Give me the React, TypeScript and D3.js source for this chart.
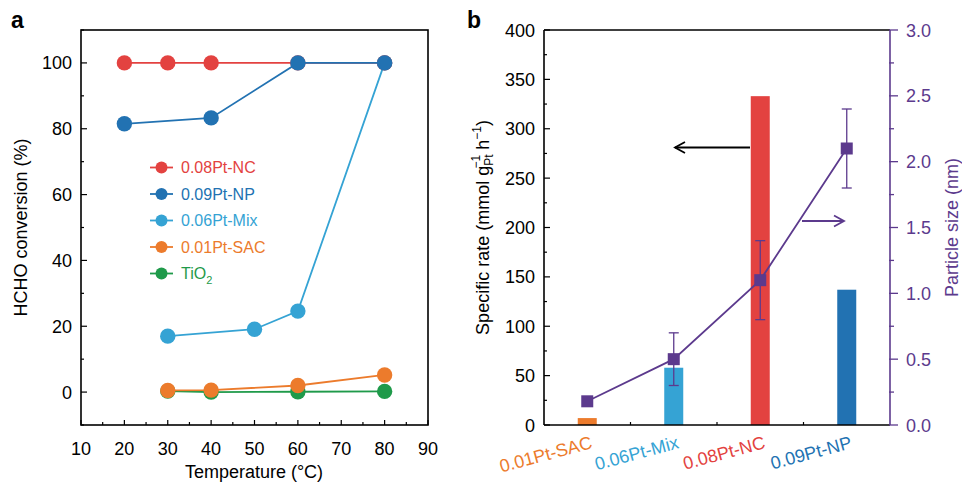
import React from "react";
import * as d3 from "d3";

const seriesNames = ["0.08Pt-NC", "0.09Pt-NP", "0.06Pt-Mix", "0.01Pt-SAC", "TiO2"];
const seriesColors = ["#e34240", "#2272b2", "#35a3d4", "#ec7b2c", "#1f9a4a"];
const ncX = [20, 30, 40, 60, 80];
const ncY = [100, 100, 100, 100, 100];
const npX = [20, 40, 60, 80];
const npY = [81.5, 83.3, 100, 100];
const mixX = [30, 50, 60, 80];
const mixY = [17.0, 19.1, 24.6, 100];
const sacX = [30, 40, 60, 80];
const sacY = [0.5, 0.6, 2.0, 5.2];
const tioX = [30, 40, 60, 80];
const tioY = [0.3, 0.0, 0.1, 0.2];

const xTicksA = [10, 20, 30, 40, 50, 60, 70, 80, 90];
const yTicksA = [0, 20, 40, 60, 80, 100];

const catsB = ["0.01Pt-SAC", "0.06Pt-Mix", "0.08Pt-NC", "0.09Pt-NP"];
const catColors = ["#ec7b2c", "#35a3d4", "#e34240", "#2272b2"];
const rates = [7, 58, 333, 137];
const sizes = [0.18, 0.5, 1.1, 2.1];
const sizeLo = [null, 0.3, 0.8, 1.8];
const sizeHi = [null, 0.7, 1.4, 2.4];
const yTicksB = [0, 50, 100, 150, 200, 250, 300, 350, 400];
const y2TicksB = [0, 0.5, 1.0, 1.5, 2.0, 2.5, 3.0];

const FONT = "'Liberation Sans', Arial, Helvetica, sans-serif";
const PURPLE = "#5c3a8d";
const FS = 18;

export default function App() {
  // Panel a
  const aL = 81, aR = 428, aT = 30, aB = 425;
  const xA = d3.scaleLinear().domain([10, 90]).range([aL, aR]);
  const yA = d3.scaleLinear().domain([-10, 110]).range([aB, aT]);
  const line = d3.line<[number, number]>().x(d => xA(d[0])).y(d => yA(d[1]));
  const series = [
    { xs: ncX, ys: ncY },
    { xs: npX, ys: npY },
    { xs: mixX, ys: mixY },
    { xs: sacX, ys: sacY },
    { xs: tioX, ys: tioY },
  ];
  const drawOrder = [4, 3, 2, 0, 1];
  const xMinorA = d3.range(10, 91, 5).filter(v => v % 10 !== 0);
  const yMinorA = d3.range(-10, 111, 10).filter(v => v % 20 !== 0);

  // Panel b
  const bL = 544, bR = 890, bT = 30, bB = 425;
  const xB = d3.scaleBand<string>().domain(catsB).range([bL, bR]).padding(0);
  const yB = d3.scaleLinear().domain([0, 400]).range([bB, bT]);
  const y2B = d3.scaleLinear().domain([0, 3]).range([bB, bT]);
  const barW = 19;
  const cx = (c: string) => (xB(c) as number) + xB.bandwidth() / 2;
  const sizeLine = d3.line<number>().x((_, i) => cx(catsB[i])).y(d => y2B(d));
  const yMinorB = d3.range(25, 400, 50);
  const y2MinorB = d3.range(0.25, 3, 0.5);

  const arrowHead = (x: number, y: number, dir: number, color: string) => (
    <path
      d={`M${x + dir * 10},${y - 5.5} L${x},${y} L${x + dir * 10},${y + 5.5}`}
      fill="none"
      stroke={color}
      strokeWidth={1.8}
    />
  );

  return (
    <svg width={962} height={483} style={{ position: "absolute", left: 0, top: 0, fontFamily: FONT }}>
      <rect width={962} height={483} fill="#fff" />
      {/* ===== Panel a ===== */}
      <text x={11} y={28} fontSize={23} fontWeight="bold">a</text>
      <rect x={aL} y={aT} width={aR - aL} height={aB - aT} fill="none" stroke="#000" strokeWidth={1.6} />
      {xTicksA.map(v => (
        <g key={"xa" + v}>
          <line x1={xA(v)} x2={xA(v)} y1={aB} y2={aB - 5} stroke="#000" strokeWidth={1.2} />
          <text x={xA(v)} y={455} fontSize={FS} textAnchor="middle">{v}</text>
        </g>
      ))}
      {xMinorA.map(v => (
        <line key={"xma" + v} x1={xA(v)} x2={xA(v)} y1={aB} y2={aB - 3} stroke="#000" strokeWidth={1.2} />
      ))}
      {yTicksA.map(v => (
        <g key={"ya" + v}>
          <line x1={aL} x2={aL + 6} y1={yA(v)} y2={yA(v)} stroke="#000" strokeWidth={1.2} />
          <text x={72} y={yA(v) + 6.5} fontSize={FS} textAnchor="end">{v}</text>
        </g>
      ))}
      {yMinorA.map(v => (
        <line key={"yma" + v} x1={aL} x2={aL + 3} y1={yA(v)} y2={yA(v)} stroke="#000" strokeWidth={1.2} />
      ))}
      <text x={254} y={478} fontSize={FS} textAnchor="middle">Temperature (°C)</text>
      <text transform={`translate(27,${(aT + aB) / 2}) rotate(-90)`} fontSize={FS} textAnchor="middle">
        HCHO conversion (%)
      </text>
      {drawOrder.map(i => {
        const s = series[i];
        const pts = s.xs.map((x, j) => [x, s.ys[j]] as [number, number]);
        return (
          <g key={"s" + i}>
            <path d={line(pts) || ""} fill="none" stroke={seriesColors[i]} strokeWidth={1.8} />
            {pts.map((p, j) => (
              <circle key={j} cx={xA(p[0])} cy={yA(p[1])} r={7.7} fill={seriesColors[i]} />
            ))}
          </g>
        );
      })}
      {/* legend */}
      {seriesNames.map((n, i) => {
        const ly = 167.5 + i * 26.5;
        return (
          <g key={"lg" + i}>
            <line x1={150} x2={173} y1={ly} y2={ly} stroke={seriesColors[i]} strokeWidth={1.8} />
            <circle cx={161.5} cy={ly} r={6} fill={seriesColors[i]} />
            <text x={181} y={ly + 5.5} fontSize={16} fill={seriesColors[i]}>
              {n === "TiO2" ? (
                <>
                  TiO<tspan fontSize={11} dy={5}>2</tspan>
                </>
              ) : (
                n
              )}
            </text>
          </g>
        );
      })}

      {/* ===== Panel b ===== */}
      <text x={467} y={28} fontSize={23} fontWeight="bold">b</text>
      {catsB.map((c, i) => (
        <rect key={"bar" + i} x={cx(c) - barW / 2} y={yB(rates[i])} width={barW} height={bB - yB(rates[i])} fill={catColors[i]} />
      ))}
      <line x1={bL} x2={bR} y1={bT} y2={bT} stroke="#000" strokeWidth={1.6} />
      <line x1={bL} x2={bR} y1={bB} y2={bB} stroke="#000" strokeWidth={1.6} />
      <line x1={bL} x2={bL} y1={bT} y2={bB} stroke="#000" strokeWidth={1.6} />
      <line x1={bR} x2={bR} y1={bT} y2={bB} stroke={PURPLE} strokeWidth={1.6} />
      {yTicksB.map(v => (
        <g key={"yb" + v}>
          <line x1={bL} x2={bL + 6} y1={yB(v)} y2={yB(v)} stroke="#000" strokeWidth={1.2} />
          <text x={535} y={yB(v) + 6.5} fontSize={FS} textAnchor="end">{v}</text>
        </g>
      ))}
      {yMinorB.map(v => (
        <line key={"ymb" + v} x1={bL} x2={bL + 3} y1={yB(v)} y2={yB(v)} stroke="#000" strokeWidth={1.2} />
      ))}
      {catsB.slice(0, 3).map((c, i) => (
        <line key={"xtb" + i} x1={(xB(c) as number) + xB.bandwidth()} x2={(xB(c) as number) + xB.bandwidth()} y1={bB} y2={bB - 3} stroke="#000" strokeWidth={1.2} />
      ))}
      {y2TicksB.map(v => (
        <g key={"y2b" + v}>
          <line x1={bR - 1} x2={bR + 8} y1={y2B(v)} y2={y2B(v)} stroke={PURPLE} strokeWidth={1.3} />
          <text x={906} y={y2B(v) + 6.5} fontSize={FS} fill={PURPLE}>{v.toFixed(1)}</text>
        </g>
      ))}
      {y2MinorB.map(v => (
        <line key={"y2mb" + v} x1={bR - 1} x2={bR + 4} y1={y2B(v)} y2={y2B(v)} stroke={PURPLE} strokeWidth={1.3} />
      ))}
      <text transform={`translate(958,${(bT + bB) / 2}) rotate(-90)`} fontSize={FS} textAnchor="middle" fill={PURPLE}>
        Particle size (nm)
      </text>
      <text transform={`translate(489,${(bT + bB) / 2}) rotate(-90)`} fontSize={FS} textAnchor="middle">
        Specific rate (mmol g<tspan fontSize={12} dy={4}>Pt</tspan>
        <tspan fontSize={12} dx={-14} dy={-13}>−1</tspan>
        <tspan dy={9}> h</tspan>
        <tspan fontSize={12} dy={-8}>−1</tspan>
        <tspan dy={8}>)</tspan>
      </text>
      {/* category labels */}
      {catsB.map((c, i) => (
        <text
          key={"cl" + i}
          transform={`translate(${cx(c) + 6},${448}) rotate(-15)`}
          fontSize={FS}
          textAnchor="end"
          fill={catColors[i]}
        >
          {c}
        </text>
      ))}
      {/* particle size line */}
      <path d={sizeLine(sizes) || ""} fill="none" stroke={PURPLE} strokeWidth={1.8} />
      {catsB.map((c, i) =>
        sizeLo[i] !== null ? (
          <g key={"eb" + i} stroke={PURPLE} strokeWidth={1.3}>
            <line x1={cx(c)} x2={cx(c)} y1={y2B(sizeLo[i] as number)} y2={y2B(sizeHi[i] as number)} />
            <line x1={cx(c) - 5} x2={cx(c) + 5} y1={y2B(sizeLo[i] as number)} y2={y2B(sizeLo[i] as number)} />
            <line x1={cx(c) - 5} x2={cx(c) + 5} y1={y2B(sizeHi[i] as number)} y2={y2B(sizeHi[i] as number)} />
          </g>
        ) : null
      )}
      {catsB.map((c, i) => (
        <rect key={"sq" + i} x={cx(c) - 6} y={y2B(sizes[i]) - 6} width={12} height={12} fill={PURPLE} />
      ))}
      {/* arrows */}
      <line x1={675} x2={750} y1={147.5} y2={147.5} stroke="#000" strokeWidth={1.8} />
      {arrowHead(675, 147.5, 1, "#000")}
      <line x1={802} x2={844} y1={221} y2={221} stroke={PURPLE} strokeWidth={1.8} />
      {arrowHead(844, 221, -1, PURPLE)}
    </svg>
  );
}
